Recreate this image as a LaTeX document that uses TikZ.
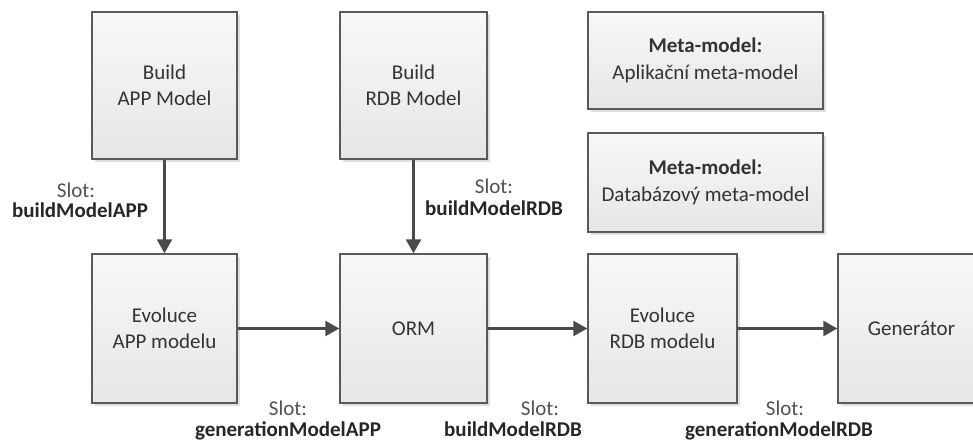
\documentclass[tikz,border=0pt]{standalone}
\usepackage{fontspec}
\setmainfont{Carlito}
\usetikzlibrary{arrows.meta,shadows}
\definecolor{edgecol}{HTML}{5A5A5A}
\definecolor{arrowcol}{HTML}{4A4A4A}
\definecolor{txtcol}{HTML}{333333}
\definecolor{topfill}{HTML}{F8F8F8}
\definecolor{botfill}{HTML}{E6E6E6}
\tikzset{
  procbox/.style={draw=edgecol, line width=1.4pt, top color=topfill, bottom color=botfill,
    text=txtcol, align=center, inner sep=0pt,
    font=\fontsize{21}{26.5}\selectfont,
    drop shadow={shadow xshift=3pt, shadow yshift=-3pt, fill=black, opacity=0.12}},
  flow/.style={draw=arrowcol, line width=2.4pt, -{Triangle[length=14pt,width=15pt]}},
  slotlbl/.style={anchor=base, text=txtcol!85!white, inner sep=0pt, font=\fontsize{21}{24}\selectfont},
  namelbl/.style={anchor=base, text=black!85, inner sep=0pt, font=\bfseries\fontsize{21}{24}\selectfont}
}
\begin{document}
\begin{tikzpicture}[x=1pt,y=-1pt]
\useasboundingbox[fill=white] (0,0) rectangle (973,441);
% top row
\node[procbox, minimum width=145pt, minimum height=147pt] (bapp) at (164.5,85.5) {Build\\APP Model};
\node[procbox, minimum width=147pt, minimum height=147pt] (brdb) at (413.5,85.5) {Build\\RDB Model};
\node[procbox, minimum width=235pt, minimum height=97pt] (meta1) at (705.5,60.5) {\textbf{Meta-model:}\\Aplikační meta-model};
\node[procbox, minimum width=235pt, minimum height=99pt] (meta2) at (705.5,182.5) {\textbf{Meta-model:}\\Databázový meta-model};
% bottom row
\node[procbox, minimum width=145pt, minimum height=149pt] (eapp) at (164.5,328.5) {Evoluce\\APP modelu};
\node[procbox, minimum width=147pt, minimum height=149pt] (orm) at (413.5,328.5) {ORM};
\node[procbox, minimum width=149pt, minimum height=149pt] (erdb) at (662.5,328.5) {Evoluce\\RDB modelu};
\node[procbox, minimum width=147pt, minimum height=149pt] (gen) at (911.5,328.5) {Generátor};
% connectors
\draw[flow] (bapp) -- (eapp);
\draw[flow] (brdb) -- (orm);
\draw[flow] (eapp) -- (orm);
\draw[flow] (orm) -- (erdb);
\draw[flow] (erdb) -- (gen);
% labels
\node[slotlbl] (s1) at (76,197) {Slot:};
\node[namelbl] (n1) at (80,217) {buildModelAPP};
\node[slotlbl] (s2) at (494,193) {Slot:};
\node[namelbl] (n2) at (494,215) {buildModelRDB};
\node[slotlbl] (s3) at (288,415) {Slot:};
\node[namelbl] (n3) at (288,436) {generationModelAPP};
\node[slotlbl] (s4) at (540,415) {Slot:};
\node[namelbl] (n4) at (513,436) {buildModelRDB};
\node[slotlbl] (s5) at (785,415) {Slot:};
\node[namelbl] (n5) at (779,436) {generationModelRDB};
\end{tikzpicture}
\end{document}
